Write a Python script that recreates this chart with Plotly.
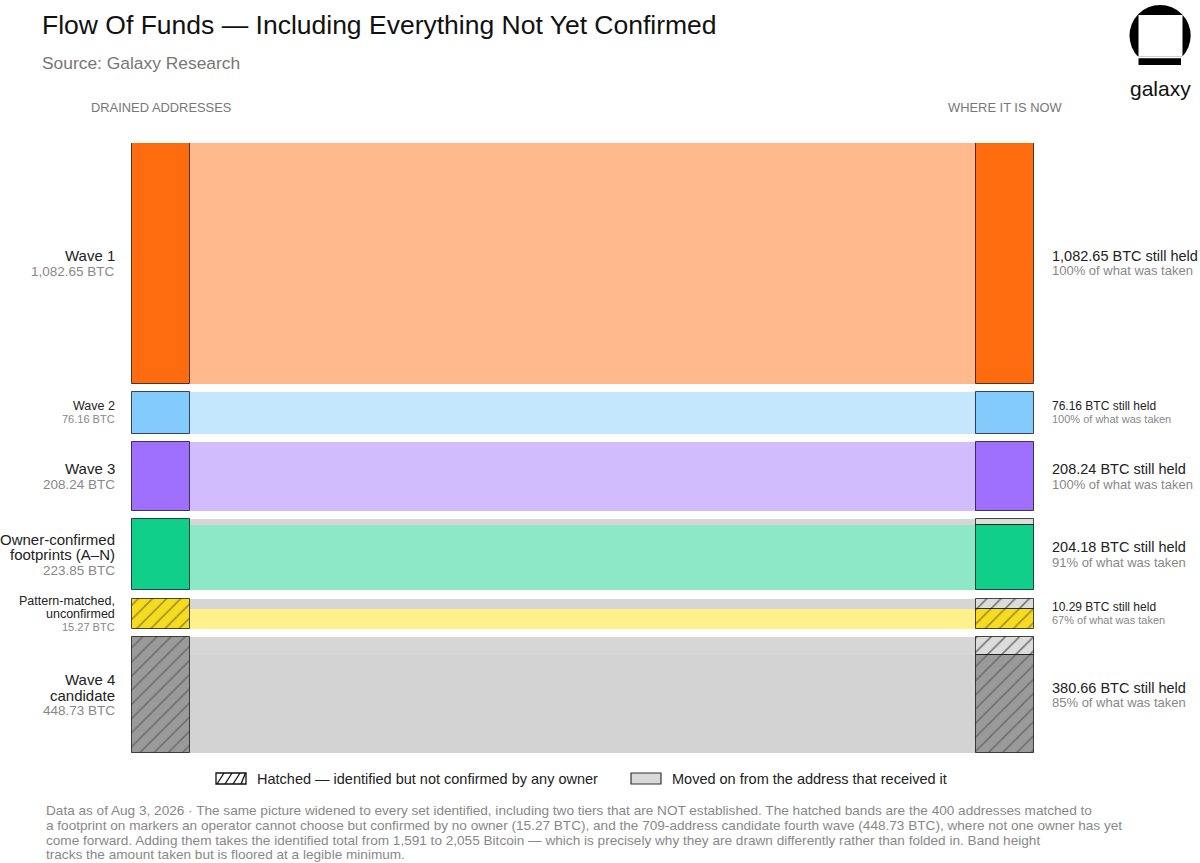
import plotly.graph_objects as go

# ---------------- data ----------------
categories = ["Wave 1", "Wave 2", "Wave 3", "Owner-confirmed footprints (A–N)",
              "Pattern-matched, unconfirmed", "Wave 4 candidate"]
label_lines = [["Wave 1"], ["Wave 2"], ["Wave 3"],
               ["Owner-confirmed", "footprints (A–N)"],
               ["Pattern-matched,", "unconfirmed"],
               ["Wave 4", "candidate"]]
taken_btc = [1082.65, 76.16, 208.24, 223.85, 15.27, 448.73]
held_btc = [1082.65, 76.16, 208.24, 204.18, 10.29, 380.66]
hatched = [False, False, False, False, True, True]

node_colors = ["#FF6B0F", "#83CBFC", "#9F70FD", "#10CF8B", "#F7DC1E", "#9A9A9A"]
band_colors = ["#FFB98C", "#C5E7FD", "#D1BDFE", "#8DE8C7", "#FFF08C", "#D3D3D3"]
moved_node_color = "#DCDCDC"
moved_band_color = "#D6D6D6"

title = "Flow Of Funds — Including Everything Not Yet Confirmed"
subtitle = "Source: Galaxy Research"
left_header = "DRAINED ADDRESSES"
right_header = "WHERE IT IS NOW"
legend_hatch = "Hatched — identified but not confirmed by any owner"
legend_moved = "Moved on from the address that received it"
footer_lines = [
    "Data as of Aug 3, 2026 · The same picture widened to every set identified, including two tiers that are NOT established. The hatched bands are the 400 addresses matched to",
    "a footprint on markers an operator cannot choose but confirmed by no owner (15.27 BTC), and the 709-address candidate fourth wave (448.73 BTC), where not one owner has yet",
    "come forward. Adding them takes the identified total from 1,591 to 2,055 Bitcoin — which is precisely why they are drawn differently rather than folded in. Band height",
    "tracks the amount taken but is floored at a legible minimum.",
]

# ---------------- layout constants ----------------
W, H = 1200, 863
FLOOR = 139.5   # legible minimum added to each band (BTC units)
GAP = 41.6      # gap between bands (BTC units)
LX0, LX1 = 132, 190
RX0, RX1 = 976, 1034
PLOT_TOP, PLOT_BOT = 143, 753

NARROW = "Liberation Sans Narrow, Arial Narrow, Liberation Sans, sans-serif"
BODY = "Liberation Sans, Arial, Helvetica, sans-serif"
OUTLINE = "rgba(0,0,0,0.7)"

n = len(taken_btc)
heights = [FLOOR + v for v in taken_btc]
tops = []
acc = 0.0
for h in heights:
    tops.append(acc)
    acc += h + GAP
total = acc - GAP
moved_h = [h * (t - k) / t for h, t, k in zip(heights, taken_btc, held_btc)]
held_h = [h - m for h, m in zip(heights, moved_h)]
held_base = [t + m for t, m in zip(tops, moved_h)]
pat = ["/" if hh else "" for hh in hatched]

lc, lw = (LX0 + LX1) / 2, LX1 - LX0
rc, rw = (RX0 + RX1) / 2, RX1 - RX0
bc, bw = (LX1 + RX0) / 2, RX0 - LX1

HATCH = dict(fillmode="overlay", fgcolor="#111111", size=10, solidity=0.17)

fig = go.Figure()
# bands: moved (top strip) and held
fig.add_trace(go.Bar(x=[bc] * n, width=[bw] * n, base=tops, y=moved_h,
                     marker=dict(color=moved_band_color, line=dict(width=0)),
                     hoverinfo="skip"))
fig.add_trace(go.Bar(x=[bc] * n, width=[bw] * n, base=held_base, y=held_h,
                     marker=dict(color=band_colors, line=dict(width=0)),
                     hoverinfo="skip"))
# left nodes
fig.add_trace(go.Bar(x=[lc] * n, width=[lw] * n, base=tops, y=heights,
                     marker=dict(color=node_colors, line=dict(width=1, color=OUTLINE),
                                 pattern=dict(shape=pat, **HATCH)),
                     hoverinfo="skip"))
# right nodes: moved part
idx = [i for i in range(n) if moved_h[i] > 0]
fig.add_trace(go.Bar(x=[rc] * len(idx), width=[rw] * len(idx),
                     base=[tops[i] for i in idx], y=[moved_h[i] for i in idx],
                     marker=dict(color=moved_node_color, line=dict(width=1, color=OUTLINE),
                                 pattern=dict(shape=[pat[i] for i in idx], **HATCH)),
                     hoverinfo="skip"))
# right nodes: held part
fig.add_trace(go.Bar(x=[rc] * n, width=[rw] * n, base=held_base, y=held_h,
                     marker=dict(color=node_colors, line=dict(width=1, color=OUTLINE),
                                 pattern=dict(shape=pat, **HATCH)),
                     hoverinfo="skip"))

annotations = []


def add_block(x, yc, lines, anchor):
    # lines: list of (text, size, color, pitch)
    total_pitch = sum(p for _, _, _, p in lines[:-1])
    off = -total_pitch / 2
    for text, size, color, pitch in lines:
        annotations.append(dict(x=x, y=yc, xref="x", yref="y", text=text, showarrow=False,
                                xanchor=anchor, yanchor="middle", yshift=-off,
                                font=dict(family=BODY, size=size, color=color)))
        off += pitch


for i in range(n):
    yc = tops[i] + heights[i] / 2
    small = taken_btc[i] < 100
    ns, vs, p = (12.5, 11, 13) if small else (15, 13.5, 15.5)
    lines = [(t, ns, "#222222", p) for t in label_lines[i]]
    lines.append((f"{taken_btc[i]:,.2f} BTC", vs, "#888888", p))
    add_block(117, yc, lines, "right")

    pct = round(held_btc[i] / taken_btc[i] * 100)
    rs, rs2, rp = (12, 11, 13) if small else (14.5, 13, 15)
    add_block(1050, yc, [(f"{held_btc[i]:,.2f} BTC still held", rs, "#222222", rp),
                         (f"{pct}% of what was taken", rs2, "#888888", rp)], "left")


def px(x):
    return x / W


def py(y):
    return 1 - y / H


def paper_text(x, y, text, size, color, family, anchor="left"):
    annotations.append(dict(x=px(x), y=py(y), xref="paper", yref="paper", text=text,
                            showarrow=False, xanchor=anchor, yanchor="middle",
                            font=dict(family=family, size=size, color=color)))


paper_text(40, 25, title, 26.5, "#111111", NARROW)
paper_text(40, 63, subtitle, 17.4, "#777777", NARROW)
paper_text(161, 107, left_header, 12.9, "#777777", NARROW, "center")
paper_text(1005, 107, right_header, 12.9, "#777777", NARROW, "center")
paper_text(1160, 88, "galaxy", 21, "#111111", NARROW, "center")
paper_text(255, 779, legend_hatch, 14.5, "#222222", BODY)
paper_text(670, 779, legend_moved, 14.5, "#222222", BODY)
for k, line in enumerate(footer_lines):
    paper_text(44, 810.5 + 14.8 * k, line, 13.6, "#888888", NARROW)

shapes = []


def rect(x0, y0, x1, y1, fill, line_color=None, lw=0):
    shapes.append(dict(type="rect", xref="paper", yref="paper",
                       x0=px(x0), x1=px(x1), y0=py(y1), y1=py(y0), fillcolor=fill,
                       line=dict(width=lw, color=line_color or fill), layer="above"))


# logo
shapes.append(dict(type="circle", xref="paper", yref="paper", x0=px(1129.5), x1=px(1190.7),
                   y0=py(66.2), y1=py(5), fillcolor="#000000", line=dict(width=0), layer="above"))
rect(1124, 56.3, 1196, 72, "#FFFFFF")
rect(1138.5, 15, 1182.5, 56.3, "#FFFFFF")
rect(1138.5, 58.3, 1181, 65, "#000000")

# legend swatches
rect(216, 773, 246, 784, "#FFFFFF", "#111111", 1.3)
for sx in [217, 225, 233, 241]:
    shapes.append(dict(type="line", xref="paper", yref="paper",
                       x0=px(max(sx, 216.5)), y0=py(784), x1=px(min(sx + 7, 245.5)), y1=py(773),
                       line=dict(width=1.3, color="#111111"), layer="above"))
rect(631, 773, 661, 784, "#D9D9D9", "#333333", 1.2)

fig.update_layout(
    width=W, height=H,
    margin=dict(l=0, r=0, t=0, b=0),
    paper_bgcolor="#FFFFFF", plot_bgcolor="#FFFFFF",
    barmode="overlay", bargap=0, showlegend=False,
    xaxis=dict(range=[0, W], domain=[0, 1], visible=False, fixedrange=True),
    yaxis=dict(range=[total, 0], domain=[1 - PLOT_BOT / H, 1 - PLOT_TOP / H],
               visible=False, fixedrange=True),
    annotations=annotations, shapes=shapes,
)

fig.write_html("out.html", config={"displayModeBar": False},
               post_script="document.body.style.margin='0px';document.body.style.overflow='hidden';")
